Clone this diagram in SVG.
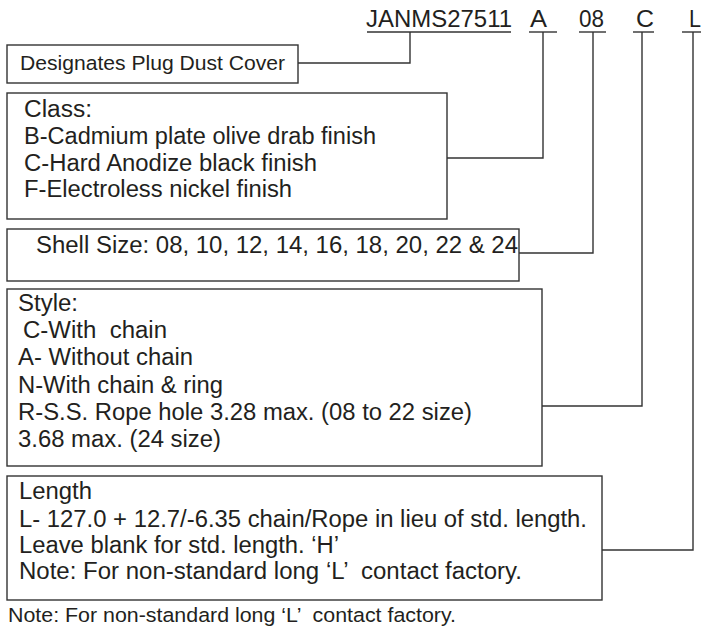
<svg xmlns="http://www.w3.org/2000/svg" width="701" height="627" viewBox="0 0 701 627">
  <style>
    .box { fill: #ffffff; stroke: #333333; stroke-width: 1.4; }
    .ln { fill: none; stroke: #333333; stroke-width: 1.4; }
    .t { font-family: "Liberation Sans", Arial, Helvetica, sans-serif; font-size: 23.5px; fill: #231f20; }
    .h { font-family: "Liberation Sans", Arial, Helvetica, sans-serif; font-size: 23px; fill: #231f20; }
    .s { font-family: "Liberation Sans", Arial, Helvetica, sans-serif; font-size: 20.5px; fill: #231f20; }
  </style>
  <rect x="0" y="0" width="701" height="627" fill="#ffffff"/>

  <g id="part-number">
    <text class="h" x="366" y="27" textLength="146" lengthAdjust="spacingAndGlyphs">JANMS27511</text>
    <text class="h" x="530" y="27" textLength="17" lengthAdjust="spacingAndGlyphs">A</text>
    <text class="h" x="579" y="27" textLength="25" lengthAdjust="spacingAndGlyphs">08</text>
    <text class="h" x="636" y="27" textLength="18" lengthAdjust="spacingAndGlyphs">C</text>
    <text class="h" x="689" y="27" textLength="12" lengthAdjust="spacingAndGlyphs">L</text>
    <line class="ln" x1="367" y1="32" x2="511" y2="32"/>
    <line class="ln" x1="529" y1="32" x2="557" y2="32"/>
    <line class="ln" x1="579" y1="32" x2="606" y2="32"/>
    <line class="ln" x1="633" y1="32" x2="654" y2="32"/>
    <line class="ln" x1="682" y1="32" x2="701" y2="32"/>
  </g>

  <g id="connectors">
    <polyline class="ln" points="298,63 410,63 410,32"/>
    <polyline class="ln" points="447,158 543,158 543,32"/>
    <polyline class="ln" points="519,253 593,253 593,32"/>
    <polyline class="ln" points="542,406 642,406 642,32"/>
    <polyline class="ln" points="602,550 693,550 693,32"/>
  </g>

  <g id="node-designates">
    <rect class="box" x="7" y="45" width="291" height="38"/>
    <text class="s" x="20" y="70" textLength="265" lengthAdjust="spacingAndGlyphs">Designates Plug Dust Cover</text>
  </g>

  <g id="node-class">
    <rect class="box" x="7" y="93" width="440" height="126"/>
    <text class="t" x="24" y="117" textLength="68" lengthAdjust="spacingAndGlyphs">Class:</text>
    <text class="t" x="24" y="144" textLength="352" lengthAdjust="spacingAndGlyphs">B-Cadmium plate olive drab finish</text>
    <text class="t" x="24" y="171" textLength="293" lengthAdjust="spacingAndGlyphs">C-Hard Anodize black finish</text>
    <text class="t" x="24" y="197" textLength="268" lengthAdjust="spacingAndGlyphs">F-Electroless nickel finish</text>
  </g>

  <g id="node-shell">
    <rect class="box" x="7" y="229" width="512" height="52"/>
    <text class="t" x="36" y="253" textLength="482" lengthAdjust="spacingAndGlyphs">Shell Size: 08, 10, 12, 14, 16, 18, 20, 22 &amp; 24</text>
  </g>

  <g id="node-style">
    <rect class="box" x="7" y="289" width="535" height="177"/>
    <text class="t" x="18" y="311" textLength="60" lengthAdjust="spacingAndGlyphs">Style:</text>
    <text class="t" x="23" y="338" textLength="144" lengthAdjust="spacingAndGlyphs" xml:space="preserve">C-With  chain</text>
    <text class="t" x="18" y="365" textLength="175" lengthAdjust="spacingAndGlyphs">A- Without chain</text>
    <text class="t" x="18" y="393" textLength="205" lengthAdjust="spacingAndGlyphs">N-With chain &amp; ring</text>
    <text class="t" x="18" y="420" textLength="454" lengthAdjust="spacingAndGlyphs">R-S.S. Rope hole 3.28 max. (08 to 22 size)</text>
    <text class="t" x="18" y="447" textLength="203" lengthAdjust="spacingAndGlyphs">3.68 max. (24 size)</text>
  </g>

  <g id="node-length">
    <rect class="box" x="7" y="476" width="595" height="124"/>
    <text class="t" x="19" y="499" textLength="73" lengthAdjust="spacingAndGlyphs">Length</text>
    <text class="t" x="19" y="527" textLength="568" lengthAdjust="spacingAndGlyphs">L- 127.0 + 12.7/-6.35 chain/Rope in lieu of std. length.</text>
    <text class="t" x="19" y="553" textLength="320" lengthAdjust="spacingAndGlyphs">Leave blank for std. length. ‘H’</text>
    <text class="t" x="19" y="579" textLength="503" lengthAdjust="spacingAndGlyphs" xml:space="preserve">Note: For non-standard long ‘L’  contact factory.</text>
  </g>

  <g id="note">
    <text class="s" x="8" y="622" textLength="448" lengthAdjust="spacingAndGlyphs" xml:space="preserve">Note: For non-standard long ‘L’  contact factory.</text>
  </g>
</svg>
